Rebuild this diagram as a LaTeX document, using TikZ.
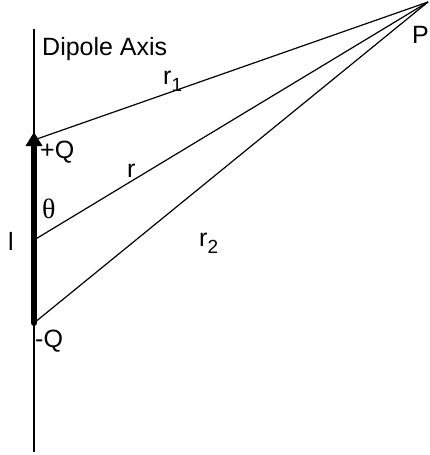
\documentclass[tikz,border=0pt]{standalone}
\usepackage{fontspec}
\setmainfont{Liberation Sans}
\newfontfamily\greekfont{Liberation Serif}
\usetikzlibrary{arrows.meta}
\newcommand{\lowsub}[1]{\raisebox{-7pt}{\fontsize{19}{21}\selectfont #1}}
\begin{document}
\begin{tikzpicture}[
  x=1pt, y=-1pt,
  axisline/.style={draw, line width=1.3pt},
  rayline/.style={draw, line width=1.2pt},
  rodline/.style={draw, line width=6pt, line cap=round,
    -{Triangle[length=14pt, width=16pt]}},
  lbl/.style={anchor=base west, inner sep=0pt, font=\fontsize{25}{29}\selectfont},
]
\useasboundingbox (0,0) rectangle (430,455);

% ============================================================
% POINTS
% ============================================================
\coordinate (axtop) at (34,29);
\coordinate (axbot) at (34,452);
\coordinate (plus) at (34,140);
\coordinate (mid) at (34,240);
\coordinate (minus) at (34,323);
\coordinate (rodtip) at (34,132);
\coordinate (P) at (428,2);

% ============================================================
% DIPOLE AXIS AND RAYS
% ============================================================
\draw[axisline] (axtop) -- (axbot);
\draw[rayline] (plus) -- (P);
\draw[rayline] (mid) -- (P);
\draw[rayline] (minus) -- (P);

% Dipole rod
\draw[rodline] (minus) -- (rodtip);

% ============================================================
% LABELS
% ============================================================
\node[lbl] (axislbl) at (42,55) {Dipole Axis};
\node[lbl] (r1lbl) at (163,84) {r\lowsub{1}};
\node[lbl] (plbl) at (412,43) {P};
\node[lbl] (qplus) at (40,158) {+Q};
\node[lbl] (rlbl) at (127,177) {r};
\node[lbl] (thetalbl) at (42,218) {\fontsize{28}{30}\selectfont\greekfont θ};
\node[lbl] (llbl) at (8,250) {l};
\node[lbl] (r2lbl) at (199,246) {r\lowsub{2}};
\node[lbl] (qminus) at (35,347) {-Q};

\end{tikzpicture}
\end{document}
